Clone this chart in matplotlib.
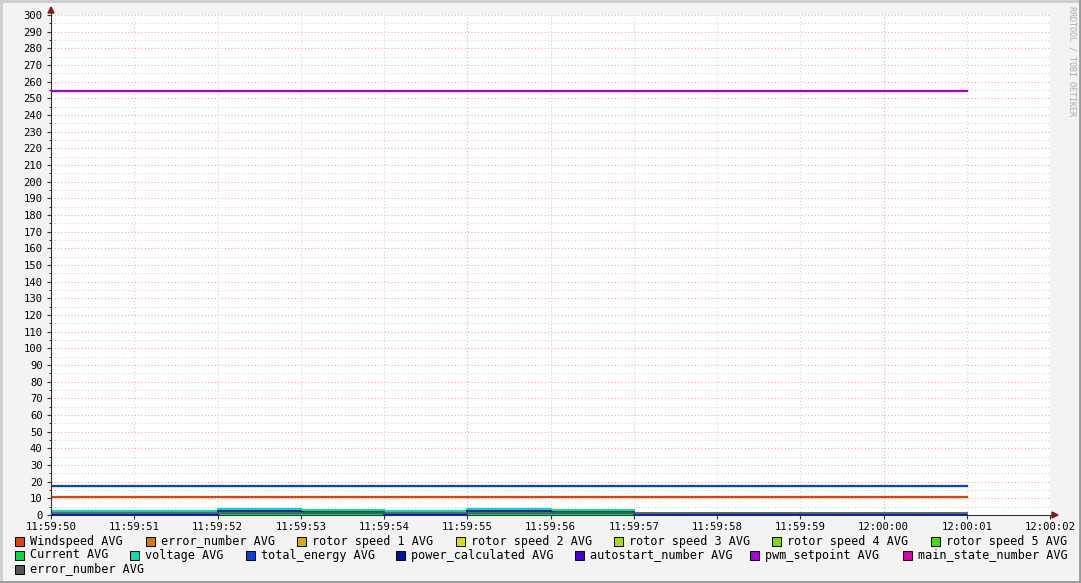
import matplotlib
matplotlib.use("Agg")
import matplotlib.pyplot as plt
from matplotlib.patches import Rectangle
from matplotlib.lines import Line2D

# time axis, seconds after 11:59:50
tick_labels = ["11:59:50", "11:59:51", "11:59:52", "11:59:53", "11:59:54", "11:59:55",
               "11:59:56", "11:59:57", "11:59:58", "11:59:59", "12:00:00", "12:00:01", "12:00:02"]
t = [0, 1, 2, 3, 4, 5, 6, 7, 8, 9, 10, 11]

windspeed = [10.9, 10.9, 10.9, 10.9, 10.9, 10.9, 10.9, 10.9, 10.9, 10.9, 10.9, 10.9]
total_energy = [17.5, 17.5, 17.5, 17.5, 17.5, 17.5, 17.5, 17.5, 17.5, 17.5, 17.5, 17.5]
pwm_setpoint = [254.6, 254.6, 254.6, 254.6, 254.6, 254.6, 254.6, 254.6, 254.6, 254.6, 254.6, 254.6]
current = [0.3, 0.5, 0.5, 0.5, 0.5, 0.5, 0.5, 0.3, 0.3, 0.3, 0.3, 0.3]
voltage = [2.2, 2.2, 3.5, 2.8, 2.2, 3.5, 2.8, 0.3, 0.5, 0.3, 0.3, 0.3]
power_calc = [0.3, 0.3, 2.3, 2.0, 0.3, 2.3, 2.0, 0.3, 0.3, 0.3, 0.3, 0.3]
error_number2 = [1.3, 1.3, 1.3, 1.3, 1.3, 1.3, 1.3, 1.3, 1.3, 1.3, 1.3, 1.3]

legend_rows = [
    [("Windspeed AVG", "#DD4400"), ("error_number AVG", "#DD7700"), ("rotor speed 1 AVG", "#DDAA00"),
     ("rotor speed 2 AVG", "#DDDD00"), ("rotor speed 3 AVG", "#AADD00"), ("rotor speed 4 AVG", "#77DD00"),
     ("rotor speed 5 AVG", "#44DD00")],
    [("Current AVG", "#00DD44"), ("voltage AVG", "#00DDAA"), ("total_energy AVG", "#0044DD"),
     ("power_calculated AVG", "#0011AA"), ("autostart_number AVG", "#4400DD"), ("pwm_setpoint AVG", "#AA00DD"),
     ("main_state_number AVG", "#DD00AA")],
    [("error_number AVG", "#555555")],
]
row1_x = [15, 146, 297, 456, 614, 772, 931]
row2_x = [15, 130, 246, 396, 575, 750, 903]
row3_x = [15]

W, H = 1081, 583
fig = plt.figure(figsize=(W / 100, H / 100), dpi=100)
fig.patch.set_facecolor("#F3F3F3")
plt.rcParams["font.family"] = "DejaVu Sans Mono"

ax = fig.add_axes([51 / W, (H - 515) / H, 999 / W, 500 / H])
ax.set_facecolor("white")
ax.set_xlim(0, 12)
ax.set_ylim(0, 300)

# grid
for y in range(5, 301, 5):
    c = "#E8B0B0" if y % 10 == 0 else "#D4D4D4"
    ax.axhline(y, color=c, lw=0.8, ls=(0, (1, 2)), zorder=0)
for x in range(1, 13):
    c = "#E8B0B0" if x % 5 == 0 else "#D4D4D4"
    ax.axvline(x, color=c, lw=0.8, ls=(0, (1, 2)), zorder=0)

# drawn in legend order, later ones on top
ax.plot(t, windspeed, color="#DD4400", lw=1.6, drawstyle="steps-post")
ax.plot(t, current, color="#00CC44", lw=1.3, drawstyle="steps-post")
ax.plot(t, voltage, color="#00DDAA", lw=1.6, drawstyle="steps-post")
ax.plot(t, total_energy, color="#0044DD", lw=1.6, drawstyle="steps-post")
ax.plot(t, power_calc, color="#0011AA", lw=1.3, drawstyle="steps-post")
ax.plot(t, pwm_setpoint, color="#AA00CC", lw=1.6, drawstyle="steps-post")
ax.plot(t, error_number2, color="#555555", lw=1.3, drawstyle="steps-post")

for s in ["top", "right"]:
    ax.spines[s].set_visible(False)
ax.spines["left"].set_color("#333333")
ax.spines["bottom"].set_color("#333333")
ax.spines["left"].set_linewidth(0.8)
ax.spines["bottom"].set_linewidth(0.8)

ax.set_yticks(range(0, 301, 10))
ax.set_yticks(range(5, 300, 10), minor=True)
ax.set_xticks(range(13))
ax.set_xticklabels(tick_labels)
ax.tick_params(axis="both", labelsize=7.6, colors="#333333", labelcolor="black", length=3, width=0.8)
ax.tick_params(axis="y", which="minor", length=1.5)
ax.tick_params(axis="x", pad=2)
ax.tick_params(axis="y", pad=3)

# axis arrows
fig.add_artist(Line2D([1050 / W, 1054 / W], [(H - 515) / H] * 2, color="#333333", lw=0.8))
fig.patches.append(plt.Polygon([[1052 / W, (H - 512) / H], [1058 / W, (H - 515) / H], [1052 / W, (H - 518) / H]],
                               closed=True, color="#8B1A1A", transform=fig.transFigure, figure=fig))
fig.add_artist(Line2D([51 / W] * 2, [(H - 15) / H, (H - 11) / H], color="#333333", lw=0.8))
fig.patches.append(plt.Polygon([[48 / W, (H - 13) / H], [51 / W, (H - 7) / H], [54 / W, (H - 13) / H]],
                               closed=True, color="#8B1A1A", transform=fig.transFigure, figure=fig))

# legend
for row, xs, ypix in zip(legend_rows, [row1_x, row2_x, row3_x], [541, 555, 569]):
    for (label, col), xp in zip(row, xs):
        fig.patches.append(Rectangle((xp / W, (H - ypix - 5) / H), 9 / W, 9 / H, facecolor=col,
                                     edgecolor="black", lw=0.7, transform=fig.transFigure, figure=fig))
        fig.text((xp + 15) / W, (H - ypix) / H, label, fontsize=8.5, va="center", ha="left", color="black")

fig.text(1072 / W, (H - 6) / H, "RRDTOOL / TOBI OETIKER", rotation=270, fontsize=6, color="#AAAAAA",
         ha="center", va="top")

# border
fig.add_artist(Line2D([0, 1], [1 - 0.5 / H] * 2, color="#CCCCCC", lw=2))
fig.add_artist(Line2D([0.5 / W] * 2, [0, 1], color="#CCCCCC", lw=2))
fig.add_artist(Line2D([0, 1], [1 / H] * 2, color="#999999", lw=2))
fig.add_artist(Line2D([1 - 1 / W] * 2, [0, 1], color="#999999", lw=2))

fig.savefig("out.png", dpi=100, facecolor=fig.get_facecolor())
